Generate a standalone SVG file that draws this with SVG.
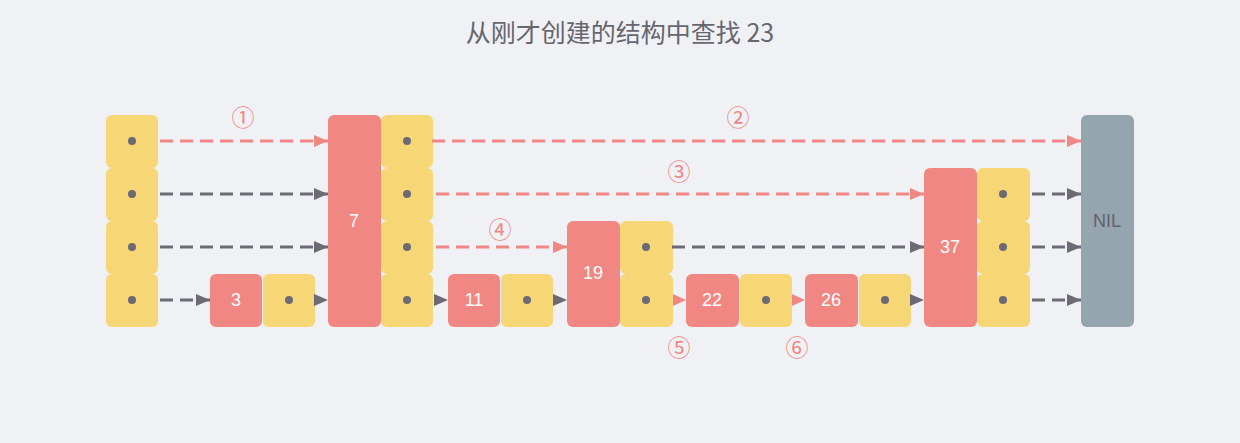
<svg xmlns="http://www.w3.org/2000/svg" width="1240" height="443" viewBox="0 0 1240 443">
<style>
.bg{fill:#f0f1f5}
.r{fill:#f08782}
.y{fill:#f7d675}
.g{fill:#95a5ad}
.d{fill:#6b6a75}
.t{font-family:"Liberation Sans",Arial,sans-serif;font-size:18px;fill:#ffffff;text-anchor:middle;dominant-baseline:central}
.nil{font-family:"Liberation Sans",Arial,sans-serif;font-size:18px;fill:#5f6370;text-anchor:middle;dominant-baseline:central}
.lbl{font-family:"Noto Sans CJK SC","DejaVu Sans",sans-serif;font-size:23px;fill:#f08782;text-anchor:middle;dominant-baseline:central}
.title{font-family:"Noto Sans CJK SC",sans-serif;font-size:25px;fill:#666670;text-anchor:middle}
.cr{fill:none;stroke:#f08782;stroke-width:3;stroke-dasharray:13 7;marker-end:url(#hr)}
.cg{fill:none;stroke:#6b6a75;stroke-width:3;stroke-dasharray:13 7;marker-end:url(#hg)}
.pr{fill:#f08782}
.pg{fill:#6b6a75}
</style>
<defs>
<marker id="hr" markerUnits="userSpaceOnUse" markerWidth="14" markerHeight="12" refX="14" refY="6" orient="auto"><path d="M0,0 L14,6 L0,12 z" fill="#f08782"/></marker>
<marker id="hg" markerUnits="userSpaceOnUse" markerWidth="14" markerHeight="12" refX="14" refY="6" orient="auto"><path d="M0,0 L14,6 L0,12 z" fill="#6b6a75"/></marker>
</defs>
<rect class="bg" x="0" y="0" width="1240" height="443"/>
<text class="title" x="620" y="42">从刚才创建的结构中查找 23</text>

<g id="head">
<rect class="y" x="106" y="115" width="52" height="53" rx="6"/>
<rect class="y" x="106" y="168" width="52" height="53" rx="6"/>
<rect class="y" x="106" y="221" width="52" height="53" rx="6"/>
<rect class="y" x="106" y="274" width="52" height="53" rx="6"/>
<circle class="d" cx="132" cy="141" r="4"/><circle class="d" cx="132" cy="194" r="4"/><circle class="d" cx="132" cy="247" r="4"/><circle class="d" cx="132" cy="300" r="4"/>
</g>
<g id="node3">
<rect class="r" x="210" y="274" width="52" height="53" rx="6"/>
<text class="t" x="236" y="300">3</text>
<rect class="y" x="263" y="274" width="52" height="53" rx="6"/>
<circle class="d" cx="289" cy="300" r="4"/>
</g>
<g id="node7">
<rect class="r" x="328" y="115" width="53" height="212" rx="6"/>
<text class="t" x="354" y="221">7</text>
<rect class="y" x="381" y="115" width="52" height="53" rx="6"/>
<rect class="y" x="381" y="168" width="52" height="53" rx="6"/>
<rect class="y" x="381" y="221" width="52" height="53" rx="6"/>
<rect class="y" x="381" y="274" width="52" height="53" rx="6"/>
<circle class="d" cx="407" cy="141" r="4"/><circle class="d" cx="407" cy="194" r="4"/><circle class="d" cx="407" cy="247" r="4"/><circle class="d" cx="407" cy="300" r="4"/>
</g>
<g id="node11">
<rect class="r" x="448" y="274" width="52" height="53" rx="6"/>
<text class="t" x="474" y="300">11</text>
<rect class="y" x="501" y="274" width="52" height="53" rx="6"/>
<circle class="d" cx="527" cy="300" r="4"/>
</g>
<g id="node19">
<rect class="r" x="567" y="221" width="53" height="106" rx="6"/>
<text class="t" x="593" y="273">19</text>
<rect class="y" x="620" y="221" width="53" height="53" rx="6"/>
<rect class="y" x="620" y="274" width="53" height="53" rx="6"/>
<circle class="d" cx="646" cy="247" r="4"/><circle class="d" cx="646" cy="300" r="4"/>
</g>
<g id="node22">
<rect class="r" x="686" y="274" width="53" height="53" rx="6"/>
<text class="t" x="712" y="300">22</text>
<rect class="y" x="740" y="274" width="52" height="53" rx="6"/>
<circle class="d" cx="766" cy="300" r="4"/>
</g>
<g id="node26">
<rect class="r" x="805" y="274" width="53" height="53" rx="6"/>
<text class="t" x="831" y="300">26</text>
<rect class="y" x="859" y="274" width="52" height="53" rx="6"/>
<circle class="d" cx="885" cy="300" r="4"/>
</g>
<g id="node37">
<rect class="r" x="924" y="168" width="53" height="159" rx="6"/>
<text class="t" x="950" y="247">37</text>
<rect class="y" x="977" y="168" width="53" height="53" rx="6"/>
<rect class="y" x="977" y="221" width="53" height="53" rx="6"/>
<rect class="y" x="977" y="274" width="53" height="53" rx="6"/>
<circle class="d" cx="1003" cy="194" r="4"/><circle class="d" cx="1003" cy="247" r="4"/><circle class="d" cx="1003" cy="300" r="4"/>
</g>
<g id="nil">
<rect class="g" x="1081" y="115" width="53" height="212" rx="6"/>
<text class="nil" x="1107" y="221">NIL</text>
</g>

<g id="connectors">
<path class="cr" d="M160,141 H328"/>
<path class="cr" d="M432,141 H1081"/>
<path class="cg" d="M160,194 H328"/>
<path class="cr" d="M436,194 H924"/>
<path class="cg" d="M1032,194 H1081"/>
<path class="cg" d="M160,247 H328"/>
<path class="cr" d="M436,247 H567"/>
<path class="cg" d="M672,247 H924"/>
<path class="cg" d="M1032,247 H1081"/>
<path class="cg" d="M160,300 H210"/>
<path class="cg" d="M1032,300 H1081"/>
<polygon class="pg" points="314,294 328,300 314,306"/>
<polygon class="pg" points="434,294 448,300 434,306"/>
<polygon class="pg" points="553,294 567,300 553,306"/>
<polygon class="pr" points="673,294 686,300 673,306"/>
<polygon class="pr" points="792,294 805,300 792,306"/>
<polygon class="pg" points="910,294 924,300 910,306"/>
</g>

<g id="labels">
<text class="lbl" x="243" y="116">①</text>
<text class="lbl" x="738" y="116">②</text>
<text class="lbl" x="679" y="170">③</text>
<text class="lbl" x="500" y="228">④</text>
<text class="lbl" x="679" y="346">⑤</text>
<text class="lbl" x="797" y="346">⑥</text>
</g>
</svg>
